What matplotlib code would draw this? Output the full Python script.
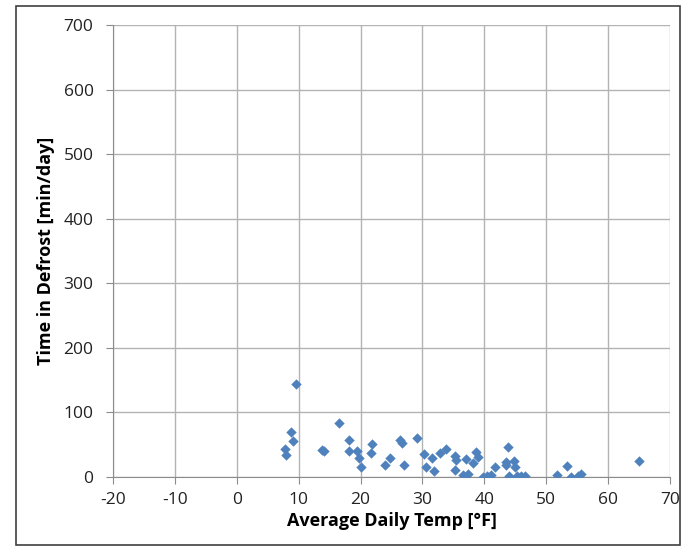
import matplotlib
matplotlib.use("Agg")
import matplotlib.pyplot as plt
from matplotlib.patches import Rectangle

# Average daily temperature [°F] vs. time in defrost [min/day]
temp = [9.5, 8.8, 9.1, 7.8, 7.9, 14.1, 13.8, 16.5, 18.1, 18.1, 19.4, 19.7, 20.1,
        21.8, 21.7, 26.3, 26.7, 24.8, 24.0, 27.1, 29.1, 30.2, 31.5, 30.6, 31.8,
        32.8, 33.8, 35.2, 35.4, 35.2, 36.5, 37.4, 37.0, 38.1, 38.7, 38.9, 39.8,
        40.4, 41.1, 41.7, 43.9, 43.5, 44.8, 43.5, 45.0, 44.0, 45.2, 45.9, 46.6,
        53.3, 51.8, 54.0, 55.2, 55.6, 65.0]
defrost = [144, 69, 56, 44, 34, 40, 42, 83, 58, 41, 41, 30, 15,
           51, 37, 58, 53, 29, 19, 19, 61, 35, 29, 15, 10,
           37, 43, 33, 27, 11, 3, 5, 28, 22, 39, 31, 0,
           2, 3, 16, 47, 24, 25, 18, 16, 1, 1, 1, 1,
           17, 3, 0, 1, 4, 25]

xticks = list(range(-20, 71, 10))
yticks = list(range(0, 701, 100))

plt.rcParams["font.family"] = ["Open Sans", "DejaVu Sans"]
plt.rcParams["axes.unicode_minus"] = False

fig = plt.figure(figsize=(6.83, 5.48), dpi=100)
ax = fig.add_axes([113 / 683, 1 - 477 / 548, (670 - 113) / 683, (477 - 25) / 548])

ax.scatter(temp, defrost, marker="D", s=28, color="#4F81BD", zorder=3, linewidths=0)

ax.set_xlim(-20, 70)
ax.set_ylim(0, 700)
ax.set_xticks(xticks)
ax.set_yticks(yticks)
ax.grid(True, color="#b3b3b3", lw=1.0)
ax.set_axisbelow(True)
for side in ["top", "right"]:
    ax.spines[side].set_visible(False)
for side in ["left", "bottom"]:
    ax.spines[side].set_color("#8c8c8c")
ax.tick_params(colors="#8c8c8c", labelcolor="#222222", labelsize=12.5, length=5)
ax.tick_params(axis="y", pad=9)
ax.tick_params(axis="x", pad=6)

ax.set_xlabel("Average Daily Temp [°F]", fontsize=13, fontweight="bold", labelpad=3)
ax.set_ylabel("Time in Defrost [min/day]", fontsize=13, fontweight="bold", labelpad=6)

# outer frame around the whole chart
fig.patches.append(Rectangle((16 / 683, 1 - 545 / 548), (680 - 16) / 683, (545 - 6) / 548,
                             transform=fig.transFigure, fill=False, ec="#404040", lw=1.2))

fig.savefig("out.png", dpi=100)
